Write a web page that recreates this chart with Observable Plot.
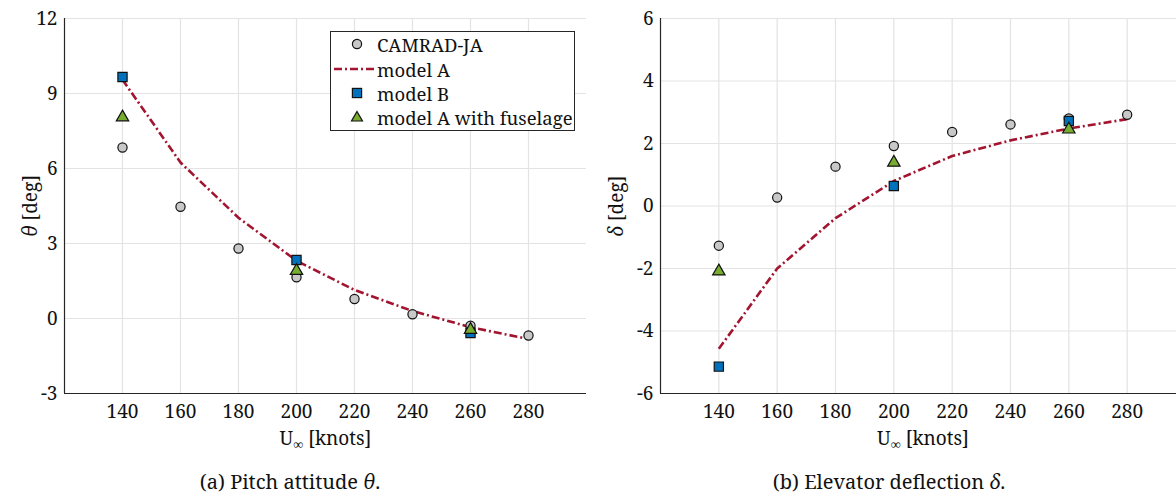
<!DOCTYPE html>
<html>
<head>
<meta charset="utf-8">
<script src="https://cdn.jsdelivr.net/npm/d3@7"></script>
<script src="https://cdn.jsdelivr.net/npm/@observablehq/plot@0.6"></script>
<style>
  html, body { margin: 0; padding: 0; background: #fff; }
  #fig { position: relative; width: 1176px; height: 494px; overflow: hidden; color: #262626; }
  #fig, .caption, .legend { font-family: "Noto Serif", "Liberation Serif", serif; }
  .panel { position: absolute; top: 0; overflow: visible; }
  .caption { position: absolute; top: 468px; font-size: 20px; white-space: nowrap; transform: translateX(-50%); color: #111; }
  .legend { position: absolute; left: 330px; top: 31px; width: 243px; height: 98px; border: 1.2px solid #262626; background: #fff; font-size: 18.5px; color: #111; }
  .legend .row { position: absolute; left: 0; height: 24px; display: flex; align-items: center; }
  .legend svg { width: 46px; height: 24px; }
</style>
</head>
<body>
<div id="fig"></div>
<script>
// ---- data ----
const speeds = [140, 160, 180, 200, 220, 240, 260, 280];
const speedsSparse = [140, 200, 260];

const thetaCamrad   = [6.84, 4.47, 2.8, 1.65, 0.78, 0.17, -0.29, -0.68];
const thetaModelA   = [9.55, 6.24, 4.03, 2.31, 1.14, 0.3, -0.35, -0.82];
const thetaModelB   = [9.66, 2.34, -0.58];
const thetaFuselage = [8.05, 1.91, -0.45];

const deltaCamrad   = [-1.27, 0.27, 1.26, 1.92, 2.37, 2.61, 2.8, 2.92];
const deltaModelA   = [-4.57, -2.0, -0.39, 0.8, 1.6, 2.1, 2.48, 2.78];
const deltaModelB   = [-5.14, 0.64, 2.72];
const deltaFuselage = [-2.09, 1.39, 2.45];

const xTicks = [140, 160, 180, 200, 220, 240, 260, 280];
const xDomain = [120, 300];
const thetaTicks = [-3, 0, 3, 6, 9, 12];
const thetaDomain = [-3, 12];
const deltaTicks = [-6, -4, -2, 0, 2, 4, 6];
const deltaDomain = [-6, 6];

const legendLabels = ["CAMRAD-JA", "model A", "model B", "model A with fuselage"];

// ---- styles ----
const colLine = "#a2142f";
const colGray = "#c8c8c8";
const colBlue = "#0072bd";
const colGreen = "#77ac30";
const dash = "8,3,2,3";

const zip = (xs, ys) => xs.map((x, i) => ({x, y: ys[i]}));

function panel({camrad, modelA, modelB, fuselage, yTicks, yDomain, width, marginLeft, marginRight, yLabelOffset}) {
  return Plot.plot({
    width, height: 462,
    marginLeft, marginRight, marginTop: 18, marginBottom: 69,
    style: {fontFamily: "'Noto Serif', 'Liberation Serif', serif", fontSize: "19px", color: "#111", background: "transparent", overflow: "visible"},
    x: {domain: xDomain, ticks: xTicks},
    y: {domain: yDomain, ticks: yTicks},
    marks: [
      Plot.gridX(xTicks, {stroke: "#e3e3e3", strokeOpacity: 1, strokeWidth: 1.2}),
      Plot.gridY(yTicks, {stroke: "#e3e3e3", strokeOpacity: 1, strokeWidth: 1.2}),
      Plot.axisX(xTicks, {tickSize: 0, tickPadding: 11, tickFormat: d => String(d), label: "U∞ [knots]", labelAnchor: "center", labelOffset: 51}),
      Plot.axisY(yTicks, {tickSize: 0, tickPadding: 7, tickFormat: d => String(d), label: "LBL", labelAnchor: "center", labelOffset: yLabelOffset}),
      Plot.ruleY([yDomain[0]], {stroke: "#262626", strokeWidth: 1.2}),
      Plot.ruleX([xDomain[0]], {stroke: "#262626", strokeWidth: 1.2}),
      Plot.line(zip(speeds, modelA), {x: "x", y: "y", stroke: colLine, strokeWidth: 2.6, strokeDasharray: dash, strokeLinecap: "butt", strokeLinejoin: "miter"}),
      Plot.dot(zip(speeds, camrad), {x: "x", y: "y", r: 4.6, fill: colGray, stroke: "#111", strokeWidth: 1.2}),
      Plot.dot(zip(speedsSparse, modelB), {x: "x", y: "y", r: 5.2, symbol: "square", fill: colBlue, stroke: "#111", strokeWidth: 1.2}),
      Plot.dot(zip(speedsSparse, fuselage), {x: "x", y: "y", r: 4.6, symbol: "triangle", fill: colGreen, stroke: "#111", strokeWidth: 1.2})
    ]
  });
}

const NS = "http://www.w3.org/2000/svg";
function richLabel(svg, aria, parts) {
  const t = svg.querySelector(`g[aria-label="${aria}"] text`);
  if (!t) return;
  t.textContent = "";
  for (const p of parts) {
    const ts = document.createElementNS(NS, "tspan");
    ts.textContent = p.text;
    if (p.italic) ts.setAttribute("font-style", "italic");
    if (p.size) ts.setAttribute("font-size", p.size);
    if (p.dy) ts.setAttribute("dy", p.dy);
    t.appendChild(ts);
  }
}

const fig = document.getElementById("fig");

const left = panel({camrad: thetaCamrad, modelA: thetaModelA, modelB: thetaModelB, fuselage: thetaFuselage,
  yTicks: thetaTicks, yDomain: thetaDomain, width: 588, marginLeft: 64, marginRight: 2, yLabelOffset: 41});
left.classList.add("panel"); left.style.left = "0px";
richLabel(left, "y-axis label", [{text: "θ", italic: true}, {text: " [deg]"}]);
richLabel(left, "x-axis label", [{text: "U"}, {text: "∞", size: "14px", dy: "4"}, {text: " [knots]", dy: "-4"}]);
fig.appendChild(left);

const right = panel({camrad: deltaCamrad, modelA: deltaModelA, modelB: deltaModelB, fuselage: deltaFuselage,
  yTicks: deltaTicks, yDomain: deltaDomain, width: 597, marginLeft: 72, marginRight: 0, yLabelOffset: 51});
right.classList.add("panel"); right.style.left = "588px";
richLabel(right, "y-axis label", [{text: "δ", italic: true}, {text: " [deg]"}]);
richLabel(right, "x-axis label", [{text: "U"}, {text: "∞", size: "14px", dy: "4"}, {text: " [knots]", dy: "-4"}]);
fig.appendChild(right);

// captions
const capA = document.createElement("div");
capA.className = "caption"; capA.style.left = "290px";
capA.innerHTML = "(a) Pitch attitude <i>θ</i>.";
fig.appendChild(capA);
const capB = document.createElement("div");
capB.className = "caption"; capB.style.left = "889px";
capB.innerHTML = "(b) Elevator deflection <i>δ</i>.";
fig.appendChild(capB);

// legend
const legend = document.createElement("div");
legend.className = "legend";
const rowsY = [0, 25, 49, 73];
const markers = [
  `<circle cx="26" cy="12" r="4.6" fill="${colGray}" stroke="#111" stroke-width="1.2"/>`,
  `<line x1="3" x2="43" y1="12" y2="12" stroke="${colLine}" stroke-width="2.6" stroke-dasharray="${dash}"/>`,
  `<rect x="21.4" y="7.4" width="9.2" height="9.2" fill="${colBlue}" stroke="#111" stroke-width="1.2"/>`,
  `<path d="M26,6.5 L31.5,16 L20.5,16 Z" fill="${colGreen}" stroke="#111" stroke-width="1.2"/>`
];
legendLabels.forEach((lab, i) => {
  const row = document.createElement("div");
  row.className = "row";
  row.style.top = rowsY[i] + "px";
  row.innerHTML = `<svg viewBox="0 0 46 24">${markers[i]}</svg><span>${lab}</span>`;
  legend.appendChild(row);
});
fig.appendChild(legend);
</script>
</body>
</html>
